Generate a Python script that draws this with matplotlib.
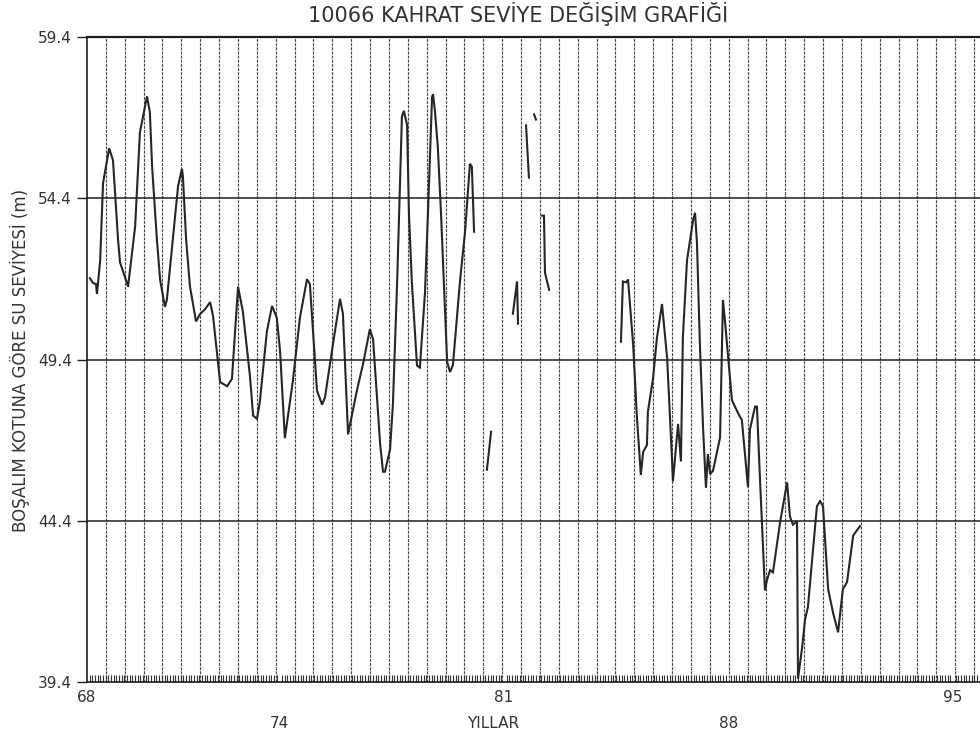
import numpy as np
import matplotlib
matplotlib.use("Agg")
import matplotlib.pyplot as plt
from matplotlib.ticker import MultipleLocator, NullFormatter

plt.rcParams["font.family"] = ["DejaVu Sans"]

baslik = "10066 KAHRAT SEVİYE DEĞİŞİM GRAFİĞİ"
y_etiket = "BOŞALIM KOTUNA GÖRE SU SEVİYESİ (m)"
x_etiket = "YILLAR"

y_tikler = [39.4, 44.4, 49.4, 54.4, 59.4]
y_cizgiler = [44.4, 49.4, 54.4]
x_yillar = [68, 74, 81, 88, 95]
x_yil_etiket = ["68", "74", "81", "88", "95"]

nan = np.nan

# Ölçüm tarihleri (yıl, ondalıklı) ve seviyeler (m); nan = kayıt yok
yil = [
    68.09, 68.19, 68.28, 68.31, 68.41, 68.50, 68.69, 68.81, 68.97, 69.03,
    69.25, 69.28, 69.34, 69.50, 69.65, 69.81, 69.87, 69.96, 70.03, 70.18,
    70.28, 70.43, 70.49, 70.74, 70.84, 70.96, 70.99, 71.09, 71.21, 71.40,
    71.52, 71.68, 71.84, 71.93, 72.15, 72.37, 72.52, 72.71, 72.86, 73.08,
    73.18, 73.30, 73.39, 73.61, 73.77, 73.92, 74.02, 74.17, 74.42, 74.64,
    74.86, 74.95, 75.17, 75.33, 75.42, 75.67, 75.89, 75.98, 76.14, 76.42,
    76.61, 76.82, 76.92, 77.14, 77.23, 77.29, 77.45, 77.54, 77.67, 77.73,
    77.82, 77.88, 77.98, 78.04, 78.13, 78.29, 78.38, 78.54, 78.63, 78.76,
    78.79, 78.85, 78.94, 79.04, 79.23, 79.32, 79.41, 79.63, 79.79, 79.94,
    80.00, 80.07, nan,
    80.47, 80.60, nan,
    81.28, 81.41, 81.44, nan,
    81.69, 81.78, nan,
    81.94, 82.00, nan,
    82.19, 82.25, 82.28, 82.41, nan,
    84.65, 84.71, 84.81, 84.87, 85.03, 85.15, 85.27, 85.34, 85.46, 85.49,
    85.65, 85.77, 85.93, 86.09, 86.24, 86.27, 86.43, 86.52, 86.58, 86.71,
    86.90, 86.96, 87.02, 87.11, 87.21, 87.30, 87.36, 87.43, 87.52, 87.74,
    87.83, 87.89, 88.11, 88.30, 88.42, 88.58, 88.61, 88.67, 88.83, 88.89,
    88.99, 89.14, 89.20, 89.30, 89.39, 89.52, 89.61, 89.83, 89.92, 90.01,
    90.14, 90.17, 90.30, 90.39, 90.48, 90.76, 90.86, 90.95, 91.11, 91.26,
    91.42, 91.57, 91.70, 91.89, 92.10,
]
seviye = [
    51.92, 51.77, 51.74, 51.43, 52.46, 54.86, 55.95, 55.58, 53.09, 52.41,
    51.76, 51.66, 52.17, 53.51, 56.44, 57.25, 57.56, 57.07, 55.38, 53.11,
    51.87, 51.03, 51.25, 53.75, 54.78, 55.31, 55.09, 53.13, 51.67, 50.58,
    50.80, 50.96, 51.18, 50.75, 48.70, 48.57, 48.80, 51.66, 50.89, 48.90,
    47.66, 47.56, 48.09, 50.28, 51.06, 50.69, 49.66, 46.96, 48.74, 50.70,
    51.89, 51.74, 48.44, 48.00, 48.22, 49.88, 51.28, 50.82, 47.08, 48.46,
    49.27, 50.34, 50.03, 46.79, 45.92, 45.92, 46.61, 48.04, 51.78, 53.87,
    56.93, 57.11, 56.68, 53.88, 51.79, 49.21, 49.15, 51.49, 53.89, 57.54,
    57.63, 57.10, 55.98, 53.90, 49.32, 49.01, 49.23, 51.82, 53.38, 55.47,
    55.38, 53.36, nan,
    45.98, 47.16, nan,
    50.82, 51.82, 50.51, nan,
    56.66, 55.04, nan,
    57.00, 56.84, nan,
    53.86, 53.86, 52.09, 51.56, nan,
    49.95, 51.82, 51.79, 51.88, 49.86, 47.56, 45.82, 46.53, 46.75, 47.78,
    48.81, 50.06, 51.12, 49.44, 46.33, 45.62, 47.40, 46.24, 50.08, 52.48,
    53.73, 53.95, 53.01, 49.90, 47.28, 45.42, 46.47, 45.85, 45.95, 46.98,
    51.25, 50.63, 48.14, 47.74, 47.52, 45.75, 45.44, 47.22, 47.94, 47.94,
    45.57, 42.24, 42.55, 42.87, 42.80, 43.71, 44.34, 45.59, 44.53, 44.28,
    44.38, 39.50, 40.48, 41.33, 41.73, 44.85, 45.01, 44.85, 42.28, 41.56,
    40.94, 42.28, 42.50, 43.94, 44.23,
]

ink = "#1c1c1c"
soft = "#333333"

fig = plt.figure(figsize=(9.8, 7.49), dpi=100)
fig.patch.set_facecolor("white")
ax = fig.add_axes([87 / 980, 67 / 749, 893 / 980, 645 / 749])
ax.set_xlim(68, 68 + 893 / 32.07)
ax.set_ylim(39.4, 59.4)

# dikey kılavuz çizgileri (yaklaşık 7 ayda bir)
for k in range(1, 48):
    ax.axvline(68 + k * 0.5885, color="#4a4a4a", lw=0.85,
               linestyle=(0, (2.5, 1.0)), zorder=1)

# yatay seviye çizgileri
for yv in y_cizgiler:
    ax.axhline(yv, color=ink, lw=1.1, zorder=1)

ax.plot(yil, seviye, color="#262626", lw=1.5, zorder=3,
        solid_joinstyle="miter")

# eksenler
for side in ("top", "left", "bottom"):
    ax.spines[side].set_color(ink)
ax.spines["top"].set_linewidth(1.6)
ax.spines["left"].set_linewidth(1.2)
ax.spines["bottom"].set_linewidth(1.2)
ax.spines["right"].set_visible(False)

ax.set_yticks(y_tikler)
ax.set_yticklabels([f"{v:.1f}" for v in y_tikler])
ax.tick_params(axis="y", direction="out", length=7, width=1.0,
               color=ink, pad=4, labelsize=11, labelcolor=soft)

ax.set_xticks(x_yillar)
ax.xaxis.set_major_formatter(NullFormatter())
ax.xaxis.set_minor_locator(MultipleLocator(1 / 12))
ax.tick_params(axis="x", which="major", length=0)
ax.tick_params(axis="x", which="minor", direction="in", length=5,
               width=0.8, color="#333333")

# yıl etiketleri, iki sıra halinde
for i, (xv, lab) in enumerate(zip(x_yillar, x_yil_etiket)):
    off = 16 if i % 2 == 0 else 42
    ax.annotate(lab, xy=(xv, 0), xycoords=("data", "axes fraction"),
                xytext=(0, -off), textcoords="offset pixels",
                ha="center", va="center", fontsize=11, color=soft)

fig.text(493 / 980, 1 - 724 / 749, x_etiket, ha="center", va="center",
         fontsize=11, color=soft)
fig.text(518 / 980, 1 - 14 / 749, baslik, ha="center", va="center",
         fontsize=15, color=soft)
fig.text(20 / 980, 1 - 360 / 749, y_etiket, rotation=90, ha="center",
         va="center", fontsize=12, color=soft)

fig.savefig("out.png", dpi=100, facecolor="white")
